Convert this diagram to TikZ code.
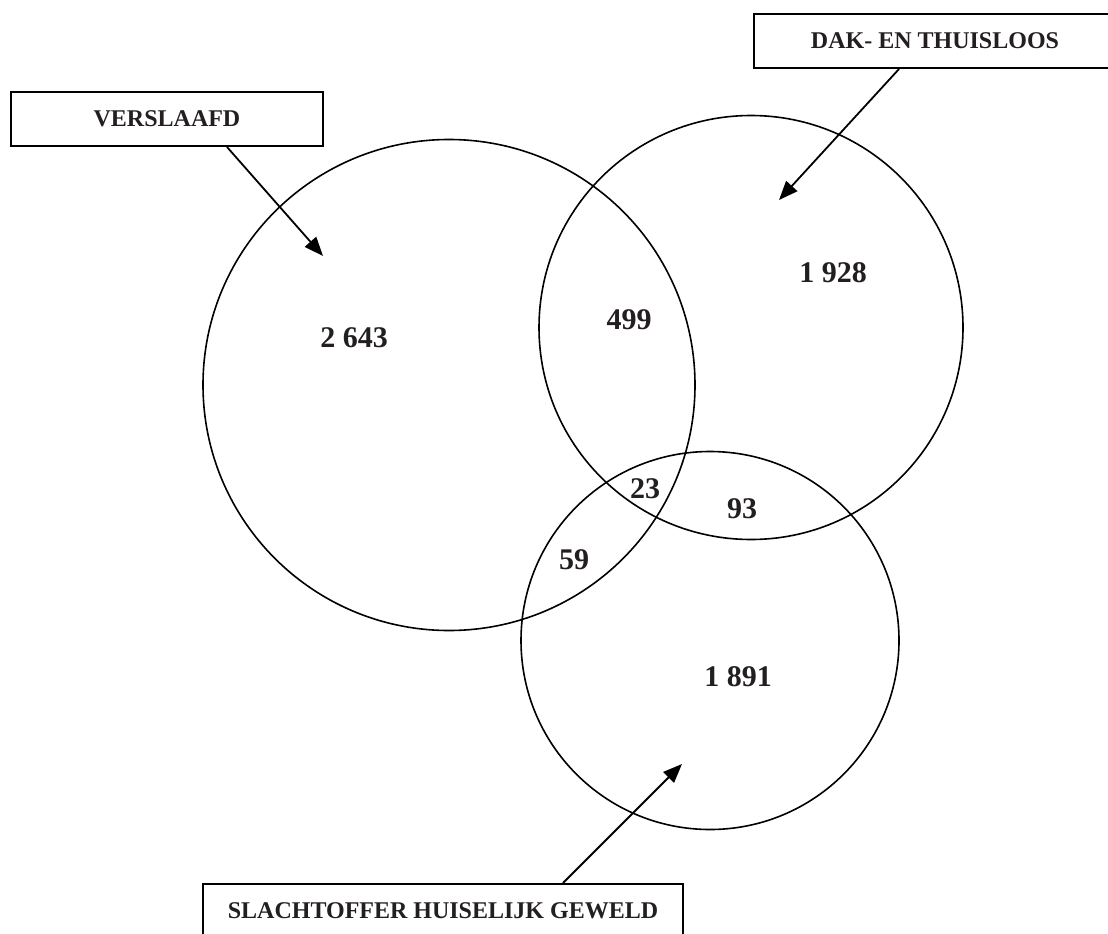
\documentclass[tikz,border=0pt]{standalone}
\usepackage{fontspec}
\setmainfont{Liberation Serif}
\usetikzlibrary{arrows.meta}
\definecolor{ink}{RGB}{35,31,32}
\tikzset{
  setcircle/.style={draw=black, line width=1.6pt},
  labelbox/.style={draw=black, line width=2pt, fill=white, minimum height=54pt, inner sep=0pt,
                   font=\fontsize{24}{28}\selectfont\bfseries, text=ink},
  count/.style={font=\fontsize{30}{34}\selectfont\bfseries, text=ink, inner sep=0pt},
  pointer/.style={draw=black, line width=1.8pt, -{Triangle[length=19pt,width=15pt]}}
}
\begin{document}
\begin{tikzpicture}[x=1pt,y=-1pt]
\useasboundingbox (0,0) rectangle (1108,934);
\clip (0,0) rectangle (1108,934);
% circles
\draw[setcircle] (449,385) ellipse [x radius=246, y radius=245.5];
\draw[setcircle] (751,327.5) circle [radius=212];
\draw[setcircle] (710,640.5) circle [radius=189];
% label boxes
\node[labelbox, minimum width=312pt] (v) at (167,119) {VERSLAAFD};
\node[labelbox, minimum width=362pt] (d) at (935,41) {DAK- EN THUISLOOS};
\node[labelbox, minimum width=480pt] (s) at (443,911) {SLACHTOFFER HUISELIJK GEWELD};
% arrow tips
\coordinate (vt) at (323,256);
\coordinate (dt) at (779,200);
\coordinate (st) at (682,764);
\draw[pointer] ([xshift=60pt]v.south) -- (vt);
\draw[pointer] ([xshift=-36pt]d.south) -- (dt);
\draw[pointer] ([xshift=120pt]s.north) -- (st);
% counts
\node[count] (n1) at (354,338) {2 643};
\node[count] (n2) at (629,320) {499};
\node[count] (n3) at (833,273) {1 928};
\node[count] (n4) at (645,489) {23};
\node[count] (n5) at (742,509) {93};
\node[count] (n6) at (574,560) {59};
\node[count] (n7) at (738,677) {1 891};
\end{tikzpicture}
\end{document}
